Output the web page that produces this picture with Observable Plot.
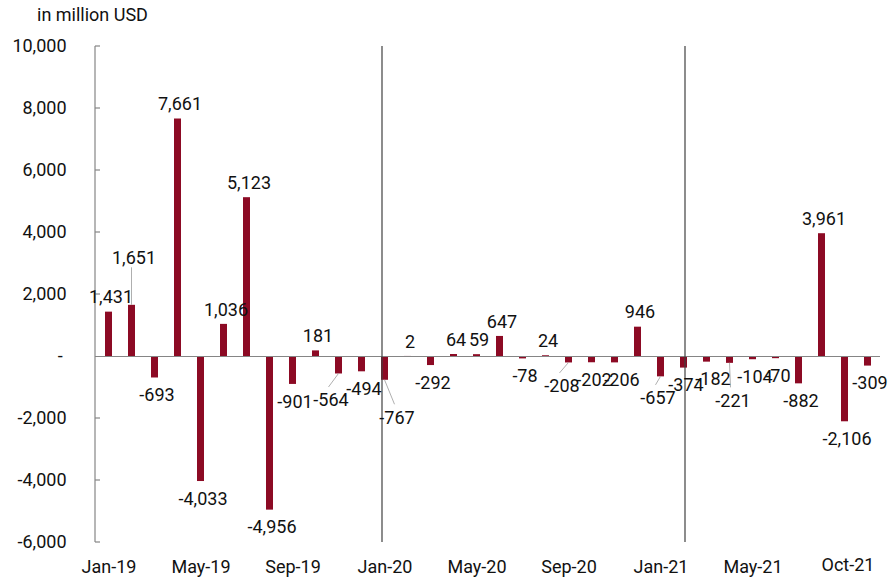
<!DOCTYPE html>
<html>
<head>
<meta charset="utf-8">
<script src="https://cdn.jsdelivr.net/npm/d3@7"></script>
<script src="https://cdn.jsdelivr.net/npm/@observablehq/plot@0.6"></script>
<style>
  body { margin: 0; background: #fff; font-family: Roboto, sans-serif; }
  #unit { height: 30px; line-height: 30px; padding-left: 37px; font-size: 18px; color: #111; }
</style>
</head>
<body>
<div id="unit">in million USD</div>
<div id="chart"></div>
<script>
// Monthly flows, in million USD
const months = [
  "Jan-19","Feb-19","Mar-19","Apr-19","May-19","Jun-19","Jul-19","Aug-19","Sep-19","Oct-19","Nov-19","Dec-19",
  "Jan-20","Feb-20","Mar-20","Apr-20","May-20","Jun-20","Jul-20","Aug-20","Sep-20","Oct-20","Nov-20","Dec-20",
  "Jan-21","Feb-21","Mar-21","Apr-21","May-21","Jun-21","Jul-21","Aug-21","Sep-21","Oct-21"
];
const values = [
  1431, 1651, -693, 7661, -4033, 1036, 5123, -4956, -901, 181, -564, -494,
  -767, 2, -292, 64, 59, 647, -78, 24, -208, -202, -206, 946,
  -657, -374, -182, -221, -104, -70, -882, 3961, -2106, -309
];
const yTicks = [-6000, -4000, -2000, 0, 2000, 4000, 6000, 8000, 10000];
const xTickMonths = ["Jan-19","May-19","Sep-19","Jan-20","May-20","Sep-20","Jan-21","May-21"];
const lastMonth = "Oct-21";

// Value labels moved off their default spot to avoid overlaps: [dx, dy] in pixels.
// Labels moved vertically get a thin leader line back to their bar.
const labelNudges = {
  "Feb-19": [0, -33], "Nov-19": [-10, 9], "Jan-20": [10, 20], "Sep-20": [-9, 6],
  "Nov-20": [5, 0], "Jan-21": [-5, 4], "Mar-21": [4, 0], "Apr-21": [1, 20]
};

const data = months.map((m, i) => ({month: m, value: values[i]}));
const fmt = v => v === 0 ? "-\u2009" : v.toLocaleString("en-US");

const W = 892, H = 548;
const RED = "#8c0a24";
const POS_GAP = 14.5, NEG_GAP = 17.5, LABEL_DX = 2;
const textStyle = {fontSize: 18, fill: "#111", fontFamily: "Roboto"};

// value labels
const labelMarks = [];
const plain = data.filter(d => !labelNudges[d.month]);
labelMarks.push(Plot.text(plain.filter(d => d.value >= 0), {
  x: "month", y: "value", text: d => fmt(d.value), dx: LABEL_DX, dy: -POS_GAP, ...textStyle
}));
labelMarks.push(Plot.text(plain.filter(d => d.value < 0), {
  x: "month", y: "value", text: d => fmt(d.value), dx: LABEL_DX, dy: NEG_GAP, ...textStyle
}));
for (const d of data.filter(d => labelNudges[d.month])) {
  const [nx, ny] = labelNudges[d.month];
  labelMarks.push(Plot.text([d], {
    x: "month", y: "value", text: d => fmt(d.value),
    dx: LABEL_DX + nx, dy: (d.value >= 0 ? -POS_GAP : NEG_GAP) + ny, ...textStyle
  }));
}

// leader lines from bar ends to displaced labels
function leaders(index, scales) {
  const g = d3.create("svg:g").attr("stroke", "#a6a6a6").attr("stroke-width", 0.9);
  const bw = scales.x.bandwidth();
  for (const d of data) {
    const nudge = labelNudges[d.month];
    if (!nudge || !nudge[1]) continue;
    const [nx, ny] = nudge;
    const x = scales.x(d.month) + bw / 2;
    const y = scales.y(d.value);
    const off = d.value >= 0 ? -POS_GAP + ny + 10 : NEG_GAP + ny - 13;
    g.append("line").attr("x1", x).attr("y1", y).attr("x2", x + nx).attr("y2", y + off);
  }
  return g.node();
}

// y axis line with short inward ticks
function yAxisLine(index, scales, vals, dims) {
  const g = d3.create("svg:g").attr("stroke", "#858585").attr("stroke-width", 1.2);
  const x0 = dims.marginLeft;
  g.append("line").attr("x1", x0).attr("x2", x0)
    .attr("y1", dims.marginTop).attr("y2", dims.height - dims.marginBottom);
  for (const t of yTicks) {
    if (t === 0) continue;
    g.append("line").attr("x1", x0).attr("x2", x0 + 5)
      .attr("y1", scales.y(t)).attr("y2", scales.y(t));
  }
  return g.node();
}

const chart = Plot.plot({
  width: W,
  height: H,
  marginLeft: 95,
  marginRight: 12,
  marginTop: 16,
  marginBottom: 36,
  style: {fontFamily: "Roboto", fontSize: "18px", color: "#111", background: "#fff"},
  x: {type: "band", domain: months, paddingInner: 0.7, paddingOuter: 0.35, label: null},
  y: {domain: [-6000, 10000], label: null},
  marks: [
    Plot.barY(data, {x: "month", y: "value", fill: RED}),
    Plot.ruleY([0], {stroke: "#858585", strokeWidth: 1.2}),
    Plot.ruleX(["Jan-20"], {stroke: "#404040", strokeWidth: 1.2, dx: -3}),
    Plot.ruleX(["Feb-21"], {stroke: "#404040", strokeWidth: 1.2, dx: 1}),
    yAxisLine,
    Plot.axisY(yTicks, {tickSize: 0, tickPadding: 29, tickFormat: fmt, label: null, ...textStyle}),
    Plot.axisX(xTickMonths, {tickSize: 0, tickPadding: 18, label: null, ...textStyle}),
    Plot.axisX([lastMonth], {tickSize: 0, tickPadding: 16, dx: -20, label: null, ...textStyle}),
    leaders,
    ...labelMarks
  ]
});
document.getElementById("chart").append(chart);
</script>
</body>
</html>
